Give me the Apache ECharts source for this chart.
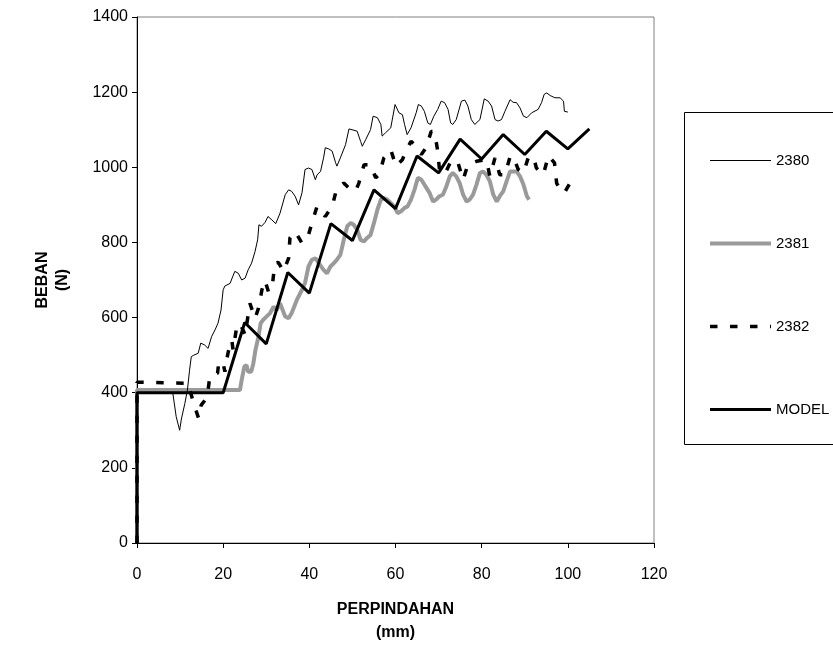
<!DOCTYPE html>
<html>
<head>
<meta charset="utf-8">
<script src="https://cdn.jsdelivr.net/npm/echarts@6/dist/echarts.min.js"></script>
<style>
  html, body { margin: 0; padding: 0; background: #fff; }
  #main { width: 833px; height: 649px; }
</style>
</head>
<body>
<div id="main"></div>
<script type="text/javascript">
  // data (x = mm, y = N)
  var x2380 = [0, 0, 8.3, 9.1, 9.9, 10.3, 11.1, 11.7, 12.2, 12.6, 13.2, 14.2, 14.8, 15.7, 16.5, 17.3, 18.1, 18.8, 19.5, 20.0, 20.4, 21.6, 22.7, 23.5, 24.3, 25.1, 25.8, 26.6, 27.4, 28.0, 28.3, 28.9, 29.7, 30.4, 31.3,
    32.2, 33.2, 34.4, 35.2, 35.9, 36.7, 37.5, 38.3, 39.0, 39.8, 40.6, 41.4, 41.8, 42.6, 43.3, 43.7, 44.5, 45.3, 46.1, 46.4, 47.2, 48.4, 49.2, 49.9, 51.1, 51.9, 52.3, 53.1, 54.2, 54.8, 55.8, 56.6, 56.9, 57.7, 58.9, 59.9, 60.8,
    61.6, 62.1, 62.7, 63.6, 64.8, 65.3, 66.0, 66.7, 67.5, 68.1, 68.9, 69.8, 70.6, 71.4, 72.2, 72.8, 73.3, 74.1, 75.3, 76.1, 76.8, 77.6, 78.4, 79.6, 80.6, 81.5, 82.3, 83.1, 83.8, 84.6, 85.4, 86.6, 87.3, 88.1, 88.9, 89.7, 90.5,
    91.6, 92.0, 93.1, 93.9, 94.5, 95.1, 95.9, 97.0, 98.2, 98.6, 99.0, 99.2, 100.0];
  var y2380 = [0, 400, 400, 336, 300, 330, 371, 407, 460, 496, 500, 505, 532, 527, 518, 549, 567, 585, 620, 674, 684, 691, 723, 718, 700, 705, 727, 745, 776, 807, 847, 843, 853, 869, 860,
    850, 878, 927, 940, 936, 923, 900, 932, 994, 998, 994, 967, 980, 989, 1025, 1052, 1049, 1043, 1012, 1003, 1025, 1060, 1102, 1100, 1096, 1069, 1056, 1074, 1100, 1136, 1132, 1114, 1083, 1092, 1105, 1167, 1145,
    1140, 1114, 1087, 1105, 1145, 1167, 1163, 1149, 1118, 1114, 1136, 1154, 1176, 1172, 1154, 1118, 1114, 1127, 1176, 1179, 1163, 1127, 1114, 1127, 1182, 1176, 1163, 1127, 1123, 1127, 1149, 1180, 1173, 1172, 1158, 1136, 1132,
    1145, 1144, 1154, 1172, 1194, 1198, 1191, 1185, 1185, 1189, 1176, 1149, 1147];

  var x2381 = [0, 0, 23.9, 24.3, 24.9, 25.4, 25.8, 26.5, 27.0, 27.5, 28.2, 28.7, 29.3, 30.1, 30.9, 31.7, 32.4, 33.2, 34.4, 35.2, 35.9, 37.1, 38.3, 39.0, 39.8, 40.6, 41.4, 42.2, 43.3, 44.1, 44.9, 45.7, 46.4, 47.2,
    48.0, 48.8, 49.6, 50.3, 51.1, 51.9, 52.7, 53.4, 54.2, 55.0, 55.8, 56.6, 57.3, 58.1, 58.9, 59.7, 60.5, 61.3, 62.1, 62.8, 63.6, 64.4, 65.2, 66.0, 66.7, 67.9, 68.7, 69.4, 70.2, 71.0, 71.8, 72.6, 73.3,
    74.1, 74.9, 75.7, 76.5, 77.2, 78.0, 78.8, 79.6, 80.3, 81.1, 81.9, 82.7, 83.5, 84.2, 85.0, 85.8, 86.6, 87.3, 88.1, 88.9, 89.7, 90.5, 91.0];
  var y2381 = [0, 407, 407, 434, 469, 474, 456, 456, 478, 514, 549, 585, 594, 603, 612, 629, 620, 638, 603, 598, 612, 647, 674, 692, 736, 754, 758, 745, 727, 718, 736, 745, 754, 767,
    807, 843, 852, 847, 834, 807, 803, 812, 820, 852, 887, 914, 918, 914, 905, 896, 878, 883, 892, 896, 914, 940, 972, 967, 954, 932, 909, 914, 923, 927, 949, 976, 985,
    976, 958, 927, 909, 914, 927, 954, 985, 989, 980, 963, 927, 909, 923, 936, 963, 989, 989, 989, 976, 954, 923, 914];

  var x2382 = [0, 0, 11.8, 12.6, 13.4, 14.3, 14.9, 16.1, 16.5, 16.9, 17.7, 18.7, 19.0, 20.0, 20.4, 20.8, 21.6, 22.0, 22.3, 23.1, 23.9, 25.1, 26.2, 27.4, 28.2, 29.0, 29.7, 30.5, 31.3, 32.0, 32.8, 34.0,
    35.2, 35.5, 36.7, 38.3, 39.8, 40.6, 41.8, 43.7, 45.3, 46.4, 48.0, 49.2, 50.7, 51.5, 52.7, 54.2, 55.4, 56.2, 57.3, 58.9, 60.1, 61.6, 62.4, 63.6, 64.8, 66.0, 67.1, 68.3, 69.1, 69.8, 70.2, 71.4,
    73.0, 74.5, 75.7, 76.8, 78.8, 81.1, 81.9, 83.1, 84.2, 85.4, 86.6, 87.3, 88.5, 89.7, 90.8, 92.0, 92.7, 94.3, 95.5, 96.9, 97.4, 98.6, 99.4, 100.5];
  var y2382 = [0, 428, 425, 394, 363, 332, 367, 385, 407, 443, 447, 452, 483, 478, 456, 487, 532, 540, 514, 572, 585, 554, 638, 598, 625, 674, 699, 669, 674, 745, 747, 723,
    758, 812, 829, 798, 820, 852, 896, 869, 896, 945, 958, 945, 936, 958, 1007, 1007, 972, 980, 1025, 1047, 1003, 1020, 1043, 1069, 1056, 1034, 1052, 1096, 1092, 1043, 994, 980,
    1020, 1012, 967, 1007, 1016, 1020, 976, 1025, 980, 980, 1028, 1029, 994, 985, 1025, 1029, 998, 980, 1031, 1012, 958, 932, 936, 958];

  var xModel = [0, 0, 20, 25, 30, 35, 40, 45, 50, 55, 60, 65, 70, 75, 80, 85, 90, 95, 100, 105];
  var yModel = [0, 400, 400, 587, 530, 720, 665, 850, 805, 940, 890, 1030, 985, 1075, 1022, 1087, 1034, 1096, 1049, 1102];

  var seriesNames = ['2380', '2381', '2382', 'MODEL'];
  var xTicks = [0, 20, 40, 60, 80, 100, 120];
  var yTicks = [0, 200, 400, 600, 800, 1000, 1200, 1400];

  function pairs(xs, ys) {
    var out = [];
    for (var i = 0; i < xs.length; i++) out.push([xs[i], ys[i]]);
    return out;
  }

  var font = 'Liberation Sans, Arial, sans-serif';

  var option = {
    animation: false,
    backgroundColor: '#fff',
    grid: {
      left: 137, right: 179, top: 17, bottom: 104,
      show: true, borderColor: '#808080', borderWidth: 1
    },
    legend: {
      orient: 'vertical',
      left: 703, top: 148,
      itemWidth: 61, itemHeight: 14, itemGap: 68,
      itemStyle: { opacity: 0 },
      lineStyle: { width: 'inherit' },
      textStyle: { fontFamily: font, fontSize: 15, color: '#000' },
      data: seriesNames
    },
    graphic: [{
      type: 'rect',
      shape: { x: 684.5, y: 112.5, width: 152, height: 332 },
      style: { fill: 'none', stroke: '#000', lineWidth: 1 },
      z: 0
    }],
    xAxis: {
      type: 'value', min: xTicks[0], max: xTicks[xTicks.length - 1], interval: 20,
      name: 'PERPINDAHAN\n(mm)', nameLocation: 'middle', nameGap: 55,
      nameTextStyle: { fontFamily: font, fontSize: 16, fontWeight: 'bold', color: '#000', lineHeight: 23 },
      axisLine: { lineStyle: { color: '#000', width: 1 } },
      axisTick: { show: true, length: 5, lineStyle: { color: '#000' } },
      axisLabel: { fontFamily: font, fontSize: 16, color: '#000', margin: 24,
        formatter: function (v) { return String(v); } },
      splitLine: { show: false }
    },
    yAxis: {
      type: 'value', min: yTicks[0], max: yTicks[yTicks.length - 1], interval: 200,
      name: 'BEBAN\n(N)', nameLocation: 'middle', nameGap: 64, nameRotate: 90,
      nameTextStyle: { fontFamily: font, fontSize: 16, fontWeight: 'bold', color: '#000', lineHeight: 20 },
      axisLine: { show: true, lineStyle: { color: '#000', width: 1 } },
      axisTick: { show: true, length: 5, lineStyle: { color: '#000' } },
      axisLabel: { fontFamily: font, fontSize: 16, color: '#000', margin: 9,
        formatter: function (v) { return String(v); } },
      splitLine: { show: false }
    },
    series: [
      { name: '2380', type: 'line', symbol: 'none', data: pairs(x2380, y2380),
        lineStyle: { color: '#000', width: 1 }, itemStyle: { color: '#000' }, z: 4 },
      { name: '2381', type: 'line', symbol: 'none', data: pairs(x2381, y2381),
        lineStyle: { color: '#9a9a9a', width: 4 }, itemStyle: { color: '#9a9a9a' }, z: 2 },
      { name: '2382', type: 'line', symbol: 'none', data: pairs(x2382, y2382),
        lineStyle: { color: '#000', width: 3.5, type: [7.5, 12.5] }, itemStyle: { color: '#000' }, z: 3 },
      { name: 'MODEL', type: 'line', symbol: 'none', data: pairs(xModel, yModel),
        lineStyle: { color: '#000', width: 3 }, itemStyle: { color: '#000' }, z: 5 }
    ]
  };

  var myChart = echarts.init(document.getElementById('main'));
  myChart.setOption(option);
</script>
</body>
</html>
